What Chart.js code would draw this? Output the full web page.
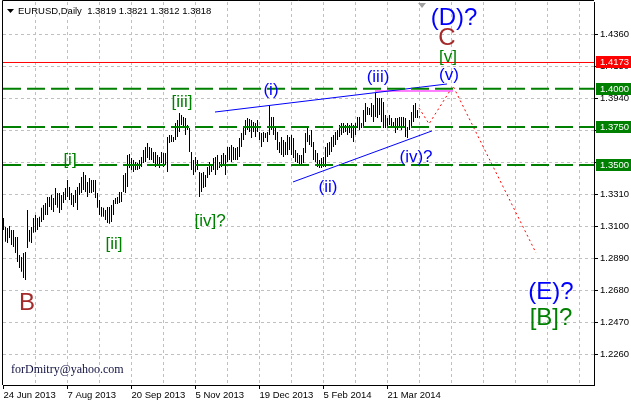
<!DOCTYPE html>
<html>
<head>
<meta charset="utf-8">
<script src="https://cdn.jsdelivr.net/npm/chart.js@4.4.1/dist/chart.umd.min.js"></script>
<style>
  html, body { margin: 0; padding: 0; background: #fff; }
  #wrap { width: 631px; height: 403px; }
</style>
</head>
<body>
<div id="wrap"><canvas id="chart" width="631" height="403"></canvas></div>
<script>
const symbolTitle = "EURUSD,Daily";
const lastQuote = [1.3819, 1.3821, 1.3812, 1.3818];

// one bar per trading day, first bar = 24 Jun 2013
const dateLabels = ["24 Jun 2013", "7 Aug 2013", "20 Sep 2013", "5 Nov 2013", "19 Dec 2013", "5 Feb 2014", "21 Mar 2014"];
const labelStep = 32;
const gridStep = 16;

const highs = [
  1.3153, 1.3094, 1.3087, 1.3100, 1.3074, 1.3074, 1.3028, 1.3028, 1.2910, 1.2897,
  1.2923, 1.2930, 1.3205, 1.3074, 1.3094, 1.3153, 1.3173, 1.3153, 1.3160, 1.3219,
  1.3238, 1.3251, 1.3291, 1.3291, 1.3304, 1.3284, 1.3350, 1.3317, 1.3317, 1.3304,
  1.3323, 1.3350, 1.3402, 1.3356, 1.3317, 1.3304, 1.3337, 1.3356, 1.3383, 1.3422,
  1.3455, 1.3435, 1.3389, 1.3415, 1.3402, 1.3402, 1.3402, 1.3317, 1.3271, 1.3225,
  1.3219, 1.3205, 1.3225, 1.3225, 1.3238, 1.3271,
  1.3284, 1.3291, 1.3323, 1.3323, 1.3435, 1.3448, 1.3566, 1.3573, 1.3547, 1.3533,
  1.3520, 1.3514, 1.3533, 1.3553, 1.3599, 1.3619, 1.3645, 1.3619, 1.3612, 1.3586,
  1.3586, 1.3566, 1.3553, 1.3586, 1.3579, 1.3579, 1.3684, 1.3697, 1.3697, 1.3684,
  1.3776, 1.3796, 1.3842, 1.3829, 1.3816, 1.3809, 1.3763, 1.3743, 1.3586, 1.3533,
  1.3553, 1.3533, 1.3455, 1.3448, 1.3455, 1.3435, 1.3488, 1.3520, 1.3501, 1.3547,
  1.3553, 1.3566, 1.3520, 1.3566, 1.3579, 1.3566, 1.3619, 1.3619, 1.3632, 1.3619,
  1.3612, 1.3619, 1.3678, 1.3711, 1.3743, 1.3796, 1.3809, 1.3802, 1.3796, 1.3783,
  1.3776, 1.3796, 1.3717, 1.3711, 1.3717, 1.3711, 1.3717, 1.3894, 1.3816, 1.3816,
  1.3750, 1.3717, 1.3652, 1.3684, 1.3665, 1.3652, 1.3697, 1.3684, 1.3697, 1.3678,
  1.3599, 1.3579, 1.3566, 1.3566, 1.3612, 1.3711, 1.3750, 1.3697, 1.3730, 1.3652,
  1.3599, 1.3579, 1.3533,
  1.3547, 1.3553, 1.3619, 1.3645, 1.3652, 1.3684, 1.3697, 1.3717, 1.3730, 1.3763,
  1.3776, 1.3776, 1.3763, 1.3776, 1.3763, 1.3776, 1.3763, 1.3776, 1.3816, 1.3816,
  1.3776, 1.3861, 1.3907, 1.3881, 1.3875, 1.3907, 1.3894, 1.3973, 1.3940, 1.3940,
  1.3940, 1.3914, 1.3829, 1.3809, 1.3829, 1.3809, 1.3783, 1.3809, 1.3809, 1.3816,
  1.3816, 1.3816, 1.3809, 1.3750, 1.3796, 1.3848, 1.3894, 1.3907, 1.3861, 1.3821
];
const lows = [
  1.3074, 1.2996, 1.2989, 1.3022, 1.2976, 1.2963, 1.2923, 1.2864, 1.2825, 1.2799,
  1.2759, 1.2746, 1.2956, 1.2996, 1.2989, 1.3055, 1.3061, 1.3074, 1.3094, 1.3127,
  1.3140, 1.3173, 1.3173, 1.3225, 1.3205, 1.3192, 1.3238, 1.3219, 1.3186, 1.3205,
  1.3251, 1.3271, 1.3291, 1.3271, 1.3238, 1.3225, 1.3251, 1.3205, 1.3304, 1.3317,
  1.3337, 1.3323, 1.3291, 1.3317, 1.3317, 1.3323, 1.3284, 1.3219, 1.3173, 1.3160,
  1.3160, 1.3140, 1.3120, 1.3114, 1.3127, 1.3173,
  1.3245, 1.3245, 1.3251, 1.3258, 1.3323, 1.3317, 1.3356, 1.3481, 1.3468, 1.3455,
  1.3468, 1.3468, 1.3474, 1.3488, 1.3514, 1.3520, 1.3547, 1.3533, 1.3533, 1.3514,
  1.3488, 1.3501, 1.3481, 1.3514, 1.3488, 1.3501, 1.3455, 1.3645, 1.3652, 1.3652,
  1.3665, 1.3684, 1.3717, 1.3763, 1.3750, 1.3697, 1.3730, 1.3586, 1.3468, 1.3435,
  1.3455, 1.3468, 1.3291, 1.3323, 1.3350, 1.3356, 1.3415, 1.3435, 1.3455, 1.3468,
  1.3435, 1.3468, 1.3481, 1.3488, 1.3501, 1.3435, 1.3520, 1.3533, 1.3520, 1.3533,
  1.3533, 1.3533, 1.3553, 1.3619, 1.3665, 1.3697, 1.3730, 1.3717, 1.3678, 1.3717,
  1.3684, 1.3717, 1.3665, 1.3619, 1.3652, 1.3678, 1.3652, 1.3697, 1.3730, 1.3697,
  1.3665, 1.3599, 1.3579, 1.3566, 1.3553, 1.3566, 1.3566, 1.3599, 1.3566, 1.3547,
  1.3520, 1.3514, 1.3501, 1.3501, 1.3514, 1.3579, 1.3652, 1.3632, 1.3619, 1.3533,
  1.3520, 1.3488, 1.3481,
  1.3481, 1.3488, 1.3488, 1.3553, 1.3566, 1.3586, 1.3619, 1.3632, 1.3665, 1.3684,
  1.3697, 1.3711, 1.3717, 1.3697, 1.3711, 1.3678, 1.3652, 1.3697, 1.3743, 1.3730,
  1.3743, 1.3743, 1.3783, 1.3829, 1.3829, 1.3816, 1.3783, 1.3816, 1.3809, 1.3829,
  1.3783, 1.3743, 1.3743, 1.3750, 1.3763, 1.3743, 1.3743, 1.3711, 1.3730, 1.3750,
  1.3730, 1.3743, 1.3684, 1.3678, 1.3730, 1.3750, 1.3783, 1.3809, 1.3809, 1.3812
];

const priceTicks = [1.4360, 1.4150, 1.3940, 1.3730, 1.3520, 1.3310, 1.3100, 1.2890, 1.2680, 1.2470, 1.2260];
const priceMin = 1.20566;
const priceMax = 1.4570;
const barMin = -0.25;
const barMax = 295.25;

const redLevel = 1.4173;
const greenLevels = [1.4000, 1.3750, 1.3500];

// trend lines: [bar index, price]
const upperChannel = [[105.75, 1.3848], [221.75, 1.4032]];
const lowerChannel = [[144.75, 1.3389], [214.25, 1.3724]];
const waveThreeHigh = [[185.75, 1.3986], [224.75, 1.3986]];
const forecastPath = [[207.75, 1.3875], [212.75, 1.3770], [224.75, 1.4019], [266.25, 1.2923]];

const BLUE = "#0000ff", GREEN = "#008000", BROWN = "#a52a2a";
const waveLabels = [
  { text: "B", i: 11.75, p: 1.2592, color: BROWN, big: true },
  { text: "[i]", i: 33.25, p: 1.3530, color: GREEN },
  { text: "[ii]", i: 55.25, p: 1.2979, color: GREEN },
  { text: "[iii]", i: 89.25, p: 1.3914, color: GREEN },
  { text: "[iv]?", i: 103.25, p: 1.3130, color: GREEN },
  { text: "(i)", i: 133.75, p: 1.3993, color: BLUE },
  { text: "(ii)", i: 162.25, p: 1.3353, color: BLUE },
  { text: "(iii)", i: 187.25, p: 1.4078, color: BLUE },
  { text: "(iv)?", i: 206.25, p: 1.3553, color: BLUE },
  { text: "(v)", i: 222.75, p: 1.4088, color: BLUE },
  { text: "[v]", i: 222.25, p: 1.4209, color: GREEN },
  { text: "C", i: 221.75, p: 1.4334, color: BROWN, big: true },
  { text: "(D)?", i: 225.25, p: 1.4462, color: BLUE, big: true },
  { text: "(E)?", i: 273.75, p: 1.2667, color: BLUE, big: true },
  { text: "[B]?", i: 273.75, p: 1.2494, color: GREEN, big: true }
];

const toPoints = (pairs) => pairs.map(([x, y]) => ({ x, y }));
const flatLine = (v) => [{ x: barMin, y: v }, { x: barMax, y: v }];
const SANS = "'Liberation Sans', Arial, sans-serif";
const AXIS_SIZE = 9.5;

const lineSet = (data, color, extra) => Object.assign({
  type: "line", data, borderColor: color, borderWidth: 1,
  pointRadius: 0, fill: false, tension: 0, order: 1
}, extra || {});

const datasets = [
  {
    type: "bar",
    data: highs.map((h, i) => ({ x: i, y: [lows[i], h] })),
    backgroundColor: "#000",
    borderWidth: 0,
    barThickness: 1,
    inflateAmount: 0,
    order: 10
  },
  lineSet(flatLine(redLevel), "#ff0000"),
  ...greenLevels.map(v => lineSet(flatLine(v), GREEN, { borderWidth: 2, borderDash: [18, 6] })),
  lineSet(toPoints(upperChannel), BLUE),
  lineSet(toPoints(lowerChannel), BLUE),
  lineSet(toPoints(waveThreeHigh), "#ff00ff"),
  lineSet(toPoints(forecastPath), "#ff0000", { borderDash: [2, 3] })
];

const overlay = {
  id: "overlay",
  afterDraw(chart) {
    const { ctx, chartArea, scales } = chart;
    const xs = scales.x, ys = scales.y;
    ctx.save();

    // frame on left and top
    ctx.strokeStyle = "#000";
    ctx.lineWidth = 1;
    ctx.beginPath();
    ctx.moveTo(2.5, 0.5);
    ctx.lineTo(2.5, chartArea.bottom);
    ctx.moveTo(2.5, 0.5);
    ctx.lineTo(chartArea.right, 0.5);
    ctx.stroke();

    // chart shift marker
    const sx = Math.round(xs.getPixelForValue(209));
    ctx.fillStyle = "#a0a0a0";
    ctx.beginPath();
    ctx.moveTo(sx - 4, 3);
    ctx.lineTo(sx + 4, 3);
    ctx.lineTo(sx, 8);
    ctx.closePath();
    ctx.fill();

    // title
    ctx.fillStyle = "#000";
    ctx.beginPath();
    ctx.moveTo(7, 9);
    ctx.lineTo(14, 9);
    ctx.lineTo(10.5, 13);
    ctx.closePath();
    ctx.fill();
    ctx.font = AXIS_SIZE + "px " + SANS;
    ctx.textBaseline = "middle";
    ctx.textAlign = "left";
    ctx.fillText(symbolTitle + "  " + lastQuote.map(v => v.toFixed(4)).join(" "), 18, 11);

    // wave labels
    ctx.textAlign = "center";
    waveLabels.forEach(l => {
      ctx.font = (l.big ? "24px " : "17px ") + SANS;
      ctx.fillStyle = l.color;
      ctx.fillText(l.text, xs.getPixelForValue(l.i), ys.getPixelForValue(l.p));
    });

    // watermark
    ctx.textAlign = "left";
    ctx.font = "12px 'Liberation Serif', 'Times New Roman', serif";
    ctx.fillStyle = "#101040";
    ctx.fillText("forDmitry@yahoo.com", 11, 370);

    // price boxes on the axis
    const box = (v, color) => {
      const y = Math.round(ys.getPixelForValue(v));
      ctx.fillStyle = color;
      ctx.fillRect(596, y - 6, 35, 12);
      ctx.fillStyle = "#fff";
      ctx.font = AXIS_SIZE + "px " + SANS;
      ctx.fillText(v.toFixed(4), 600, y + 0.5);
    };
    box(redLevel, "#ff0000");
    greenLevels.forEach(v => box(v, GREEN));
    ctx.restore();
  }
};

const labelAt = (v) => {
  const k = v / labelStep;
  return Number.isInteger(k) && k < dateLabels.length ? dateLabels[k] : "";
};

const noPad = (s) => {
  s.paddingTop = 0;
  s.paddingBottom = 0;
  s.paddingLeft = 0;
  s.paddingRight = 0;
};

new Chart(document.getElementById("chart"), {
  type: "bar",
  data: { datasets },
  options: {
    responsive: false,
    animation: false,
    devicePixelRatio: 1,
    layout: { padding: { left: 3, top: 2, right: 0, bottom: 0 } },
    plugins: { legend: { display: false }, tooltip: { enabled: false } },
    scales: {
      x: {
        type: "linear",
        min: barMin,
        max: barMax,
        offset: false,
        afterBuildTicks: (s) => {
          const t = [];
          for (let v = 0; v <= barMax; v += gridStep) t.push({ value: v });
          s.ticks = t;
        },
        afterFit: (s) => { s.height = 18; noPad(s); },
        grid: {
          offset: false,
          color: (c) => (c.tick && c.tick.value > 0 ? "#c0c0c0" : "rgba(0,0,0,0)"),
          tickColor: (c) => (c.tick && labelAt(c.tick.value) ? "#000" : "rgba(0,0,0,0)"),
          tickLength: 4
        },
        border: { display: true, color: "#000", width: 1, dash: [3, 3] },
        ticks: {
          autoSkip: false,
          maxRotation: 0,
          align: "start",
          padding: 1,
          color: "#000",
          font: { family: SANS, size: AXIS_SIZE },
          callback: (v) => labelAt(v)
        }
      },
      y: {
        type: "linear",
        position: "right",
        min: priceMin,
        max: priceMax,
        afterBuildTicks: (s) => { s.ticks = priceTicks.map(v => ({ value: v })); },
        afterFit: (s) => { s.width = 37; noPad(s); },
        grid: { color: "#c0c0c0", tickColor: "#000", tickLength: 4 },
        border: { display: true, color: "#000", width: 1, dash: [3, 3] },
        ticks: {
          padding: 2,
          color: "#000",
          font: { family: SANS, size: AXIS_SIZE },
          callback: (v) => v.toFixed(4)
        }
      }
    }
  },
  plugins: [overlay]
});
</script>
</body>
</html>
